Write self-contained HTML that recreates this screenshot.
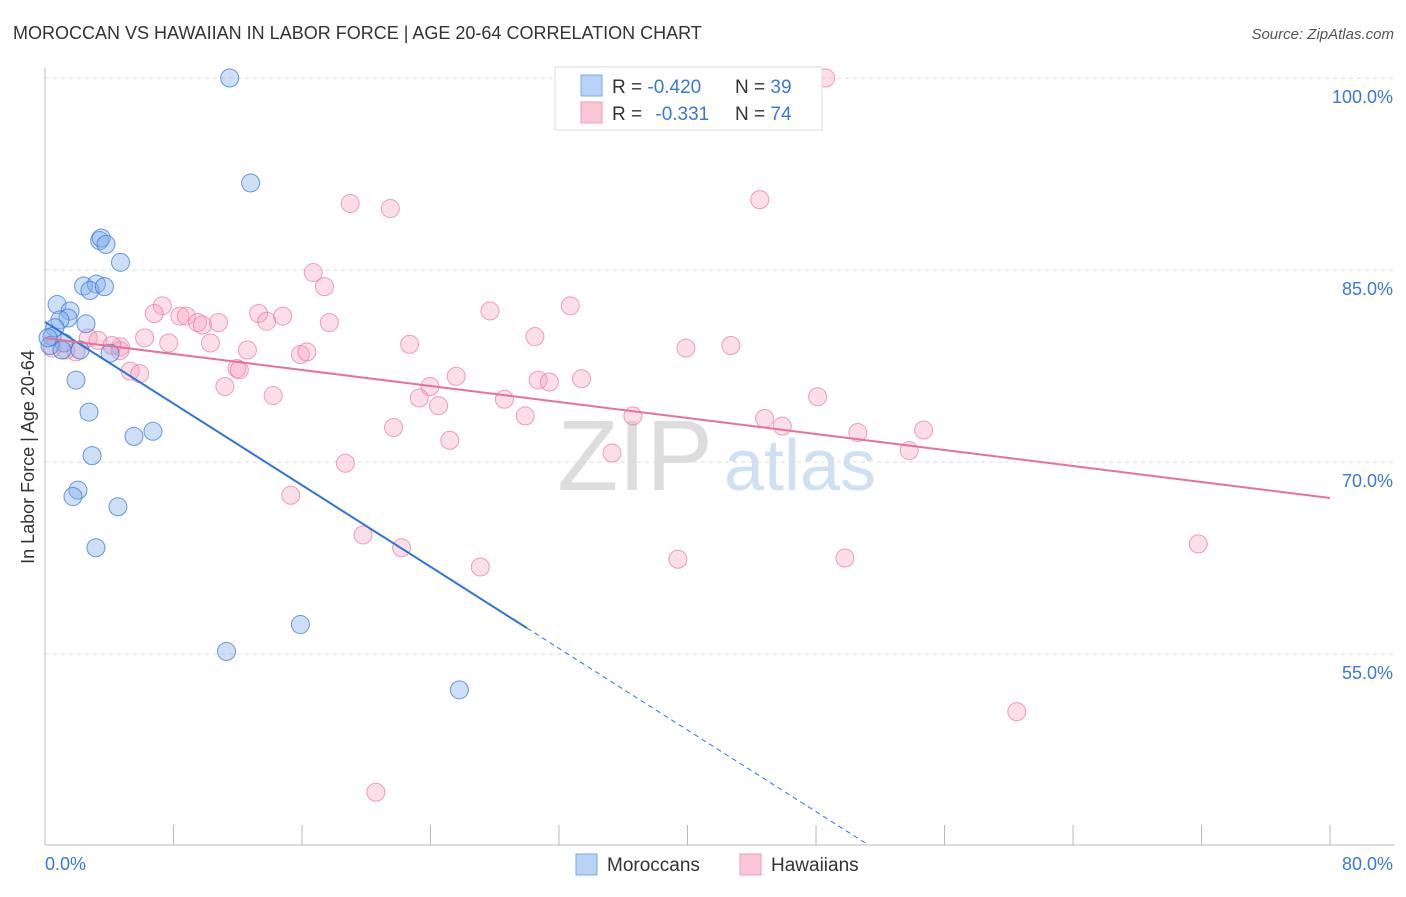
<!DOCTYPE html>
<html><head><meta charset="utf-8"><style>
body{margin:0;background:#fff;font-family:"Liberation Sans",sans-serif;}
svg text{font-family:"Liberation Sans",sans-serif;}
</style></head><body>
<svg id="c" width="1406" height="892" viewBox="0 0 1406 892">
<text x="13" y="39" font-size="18" fill="#333">MOROCCAN VS HAWAIIAN IN LABOR FORCE | AGE 20-64 CORRELATION CHART</text>
<text x="1394" y="39" font-size="15" font-style="italic" fill="#555" text-anchor="end">Source: ZipAtlas.com</text>
<text x="635" y="490" font-size="100" font-family="Liberation Serif" fill="#ddd" text-anchor="middle">ZIP</text>
<text x="800" y="490" font-size="72" fill="#cfe0f3" text-anchor="middle">atlas</text>
<g id="grid"></g>
<line x1="45" y1="68" x2="45" y2="845" stroke="#bbb"/>
<line x1="45" y1="845" x2="1395" y2="845" stroke="#bbb"/>
<text transform="translate(34,457) rotate(-90)" font-size="18" fill="#333" text-anchor="middle">In Labor Force | Age 20-64</text>
<text x="45" y="870" font-size="18" fill="#3a78d4">0.0%</text>
<text x="1393" y="870" font-size="18" fill="#3a78d4" text-anchor="end">80.0%</text>
<g id="pts"></g>
<g id="lines"></g>
<g>
<rect x="555" y="67" width="267" height="63" fill="#fff" stroke="#ddd"/>
<rect x="581" y="75" width="21" height="21" fill="#b8d3f5" stroke="#7aaae8"/>
<rect x="581" y="102" width="21" height="21" fill="#f9c6d6" stroke="#ef9db7"/>
<text x="612" y="93" font-size="19" fill="#333">R = <tspan fill="#3a78d4">-0.420</tspan></text>
<text x="735" y="93" font-size="19" fill="#333">N = <tspan fill="#3a78d4">39</tspan></text>
<text x="612" y="120" font-size="19" fill="#333">R = <tspan fill="#3a78d4" dx="8">-0.331</tspan></text>
<text x="735" y="120" font-size="19" fill="#333">N = <tspan fill="#3a78d4">74</tspan></text>
</g>
<g><rect x="576" y="854" width="21" height="21" fill="#b8d3f5" stroke="#7aaae8"/><text x="607" y="871" font-size="19" fill="#333">Moroccans</text></g>
<g><rect x="740" y="854" width="21" height="21" fill="#f9c6d6" stroke="#ef9db7"/><text x="771" y="871" font-size="19" fill="#333">Hawaiians</text></g>
</svg>
<script>
const yTicks=[100,85,70,55];
const xTickCount=10;
const moroccanX=[11.5,12.8,3.4,3.5,3.8,4.7,2.4,3.2,2.8,3.7,0.75,1.56,1.43,0.93,2.55,0.62,0.44,1.18,2.18,4.05,1.93,2.74,5.54,6.72,2.93,2.05,1.74,4.54,3.17,15.9,11.3,25.8,0.31,1.06,0.19];
const moroccanY=[100,91.8,87.3,87.5,87.0,85.6,83.75,83.9,83.4,83.7,82.3,81.8,81.25,81.1,80.8,80.5,79.8,79.3,78.75,78.5,76.4,73.9,72.0,72.4,70.5,67.8,67.3,66.5,63.3,57.3,55.2,52.2,79.1,78.75,79.7];
const hawaiianX=[48.6,19.0,21.5,44.5,16.7,17.4,32.7,27.7,7.3,6.8,8.4,8.8,9.5,10.8,9.8,13.3,13.8,14.8,17.7,6.2,30.5,22.7,7.7,10.3,2.7,3.3,4.7,12.6,15.9,16.3,39.9,42.7,25.6,23.97,30.7,31.4,33.4,23.3,24.5,28.6,29.9,36.6,44.8,45.9,48.1,50.6,54.7,53.8,21.7,25.2,35.3,5.3,5.9,11.95,12.1,11.2,14.2,18.7,15.3,19.8,22.2,27.1,39.4,49.8,71.8,60.5,20.6,1.3,1.93,0.44,4.67,4.17];
const hawaiianY=[100,90.2,89.8,90.5,84.8,83.7,82.2,81.8,82.2,81.6,81.4,81.4,80.9,80.9,80.7,81.6,81.0,81.4,80.9,79.7,79.8,79.2,79.3,79.3,79.7,79.5,79.0,78.75,78.4,78.6,78.9,79.1,76.7,75.9,76.4,76.25,76.5,75.0,74.4,74.9,73.6,73.6,73.4,72.8,75.1,72.3,72.5,70.9,72.7,71.7,70.7,77.1,76.9,77.3,77.2,75.9,75.2,69.9,67.4,64.3,63.3,61.8,62.4,62.5,63.6,50.5,44.2,78.75,78.6,78.9,78.7,79.1];
const blueLine=[80.94,-0.797];
const pinkLine=[79.69,-0.1563];
const NS='http://www.w3.org/2000/svg';
const xs=v=>45+v/80*1285, ys=v=>78+(100-v)*12.8;
function mk(tag,attrs,parent){const e=document.createElementNS(NS,tag);for(const k in attrs)e.setAttribute(k,attrs[k]);parent.appendChild(e);return e;}
const grid=document.getElementById('grid');
yTicks.forEach(t=>{
 const l=mk('line',{x1:45,x2:1395,y1:ys(t),y2:ys(t),stroke:'#ddd','stroke-dasharray':'4,4'},grid);
 
 
 const tx=mk('text',{x:1393,y:ys(t)+25,'font-size':18,fill:'#3a78d4','text-anchor':'end'},grid);
 tx.textContent=t.toFixed(1)+'%';
 
 
});
for(let i=1;i<=xTickCount;i++){
 const x=xs(i*8);
 const l=mk('line',{x1:x,x2:x,y1:825,y2:845,stroke:'#bbb'},grid);
 
 
}
const pts=document.getElementById('pts');
hawaiianX.forEach((x,i)=>{
 const c=mk('circle',{cx:xs(x),cy:ys(hawaiianY[i]),r:9,fill:'rgba(245,160,190,0.35)',stroke:'rgba(232,120,160,0.7)','stroke-width':1},pts);
 
 
});
moroccanX.forEach((x,i)=>{
 const c=mk('circle',{cx:xs(x),cy:ys(moroccanY[i]),r:9,fill:'rgba(130,175,235,0.4)',stroke:'rgba(60,120,210,0.75)','stroke-width':1},pts);
 
 
});
const lines=document.getElementById('lines');
const bl=mk('line',{x1:xs(0),y1:ys(blueLine[0]),x2:xs(30),y2:ys(blueLine[0]+blueLine[1]*30),stroke:'#2f74d8','stroke-width':2},lines);


const xe=51.1;
const bd=mk('line',{x1:xs(30),y1:ys(blueLine[0]+blueLine[1]*30),x2:xs(xe),y2:ys(blueLine[0]+blueLine[1]*xe),stroke:'#2f74d8','stroke-width':1,'stroke-dasharray':'5,4'},lines);


const pl=mk('line',{x1:xs(0),y1:ys(pinkLine[0]),x2:xs(80),y2:ys(pinkLine[0]+pinkLine[1]*80),stroke:'#e8709a','stroke-width':2},lines);


</script>
</body></html>
